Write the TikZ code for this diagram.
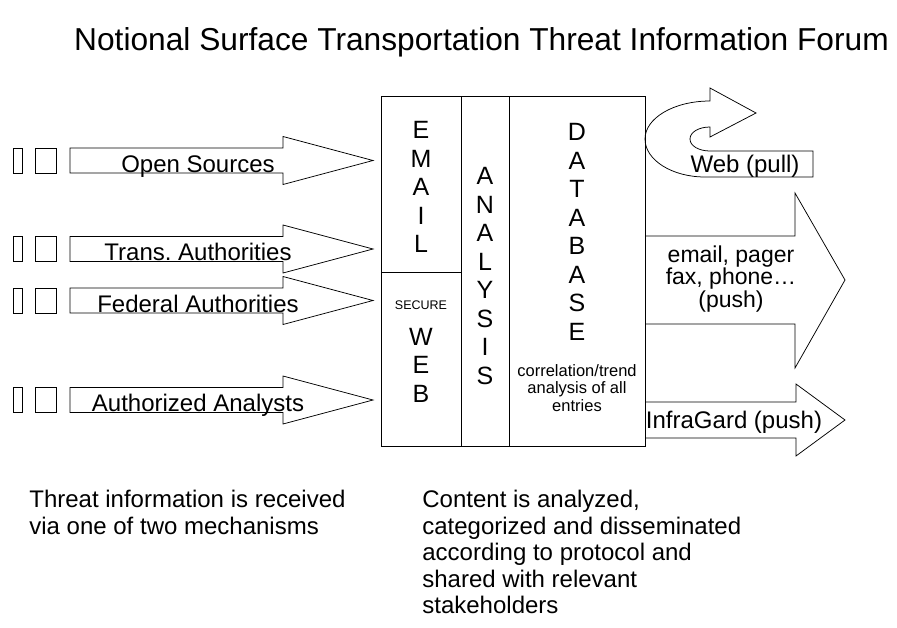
\documentclass[tikz,border=0pt]{standalone}
\usepackage{fontspec}
\setmainfont{Liberation Sans}
\frenchspacing
\begin{document}
\begin{tikzpicture}[x=1pt, y=-1pt, line width=0.75pt,
    lbl/.style={inner sep=0pt, font=\fontsize{24}{26.5}\selectfont},
    letters/.style={inner sep=0pt, align=center, font=\fontsize{25}{28.5}\selectfont},
    small/.style={inner sep=0pt, align=center, font=\fontsize{16.5}{17.5}\selectfont}]

    \useasboundingbox (0,0) rectangle (897,627);

    \node[inner sep=0pt, font=\fontsize{31.7}{38}\selectfont] (title) at (481.5,42) {Notional Surface Transportation Threat Information Forum};

    \foreach \i/\y/\txt in {1/160.5/Open Sources, 2/249/Trans. Authorities, 3/300.5/Federal Authorities, 4/400/Authorized Analysts} {
        \draw (13,\y-12.5) rectangle (22,\y+12.5);
        \draw (35,\y-12.5) rectangle (56,\y+12.5);
        \draw (70,\y-12.5) -- (283,\y-12.5) -- (283,\y-24) -- (373,\y) -- (283,\y+24) -- (283,\y+12.5) -- (70,\y+12.5) -- cycle;
        \node[lbl, anchor=base] (src-\i) at (198,\y+11.5) {\txt};
    }

    \draw (381,96) rectangle (645,446);
    \draw (461,96) -- (461,446) (509,96) -- (509,446) (381,272) -- (461,272);

    \node[letters] (email) at (421,187) {E\\M\\A\\I\\L};
    \node[inner sep=0pt, font=\fontsize{12.5}{14}\selectfont] (secure) at (421,305) {SECURE};
    \node[letters] (web) at (421,365) {W\\E\\B};
    \node[letters] (analysis) at (485,276) {A\\N\\A\\L\\Y\\S\\I\\S};
    \node[letters] (database) at (577,232) {D\\A\\T\\A\\B\\A\\S\\E};
    \node[small] (trend) at (577,388) {correlation/trend\\analysis of all\\entries};

    \draw (710,127) -- (710,137) -- (756,113) -- (710,88) -- (710,101)
        .. controls (674,101) and (645,118) .. (645,139)
        .. controls (645,160) and (672,177) .. (705,177) -- (813,177) -- (813,151) -- (710,151)
        .. controls (699,151) and (690,146) .. (690,139)
        .. controls (690,132) and (699,127) .. (710,127) -- cycle;
    \node[lbl, anchor=base] (pull) at (745,172) {Web (pull)};

    \draw (645,236) -- (795,236) -- (795,193) -- (845,280) -- (795,368) -- (795,324) -- (645,324);
    \node[lbl, align=center, font=\fontsize{23}{22.5}\selectfont] (push) at (731,279) {email, pager\\fax, phone…\\(push)};

    \draw (645,402) -- (796,402) -- (796,384) -- (845,420) -- (796,456) -- (796,438) -- (645,438);
    \node[lbl, anchor=base] (infragard) at (734,428) {InfraGard (push)};

    \node[lbl, align=left, anchor=north west] (received) at (29,490) {Threat information is received\\via one of two mechanisms};
    \node[lbl, align=left, anchor=north west] (content) at (422,490) {Content is analyzed,\\categorized and disseminated\\according to protocol and\\shared with relevant\\stakeholders};

\end{tikzpicture}
\end{document}
